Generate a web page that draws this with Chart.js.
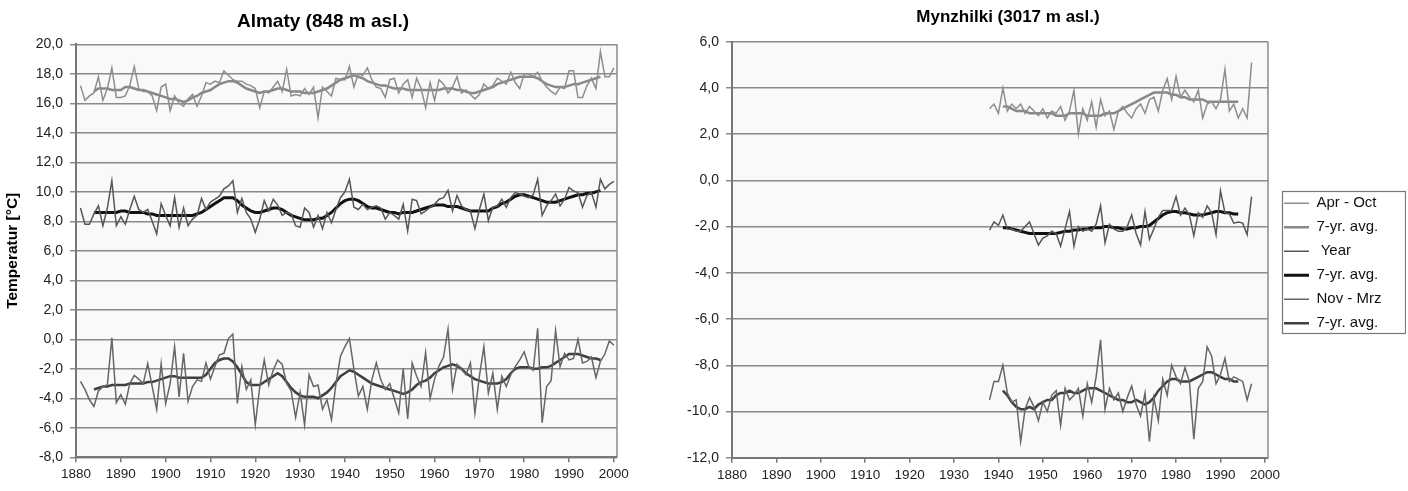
<!DOCTYPE html>
<html>
<head>
<meta charset="utf-8">
<title>Temperatur Almaty / Mynzhilki</title>
<script src="https://cdn.jsdelivr.net/npm/chart.js@4"></script>
<style>
  body { margin: 0; background: #fff; width: 1408px; height: 491px; overflow: hidden; position: relative; }
  #almaty-box { position: absolute; left: 0; top: 0; }
  #mynzhilki-box { position: absolute; left: 610px; top: 0; }
</style>
</head>
<body>
<div id="almaty-box"><canvas id="almatyChart" width="646" height="491"></canvas></div>
<div id="mynzhilki-box"><canvas id="mynzhilkiChart" width="796" height="491"></canvas></div>

<script>
// ---- Almaty (848 m asl.), yearly values from 1881, 7-yr. avg. from 1884
const almatyFirstYear = 1881;
const almatyAvgFirstYear = 1884;

const almatyAprOct = [
  17.2, 16.2, 16.5, 16.7, 17.8, 16.2, 17.0, 18.4, 16.4, 16.4,
  16.5, 17.2, 18.5, 17.0, 16.8, 16.8, 16.5, 15.5, 17.1, 17.3,
  15.5, 16.5, 16.0, 15.8, 16.3, 16.6, 15.8, 16.5, 17.4, 17.3,
  17.5, 17.4, 18.2, 17.9, 17.6, 17.5, 17.5, 17.3, 17.2, 17.0,
  15.7, 16.8, 16.7, 17.1, 17.5, 16.8, 18.3, 16.5, 16.6, 16.5,
  17.0, 16.6, 17.1, 15.0, 17.1, 16.8, 16.5, 17.7, 17.6, 17.6,
  18.5, 17.1, 18.0, 17.9, 18.4, 17.6, 17.1, 17.0, 16.4, 17.6,
  17.7, 16.7, 17.3, 17.6, 16.4, 17.7, 17.0, 15.7, 17.4, 16.2,
  17.6, 17.3, 16.7, 17.1, 17.8, 16.7, 16.9, 16.6, 16.3, 16.6,
  17.3, 17.0, 17.2, 17.7, 17.5, 17.3, 18.1, 17.4, 17.0, 18.0,
  18.0, 17.8, 18.1, 17.5, 17.1, 16.8, 16.6, 17.1, 17.0, 18.2,
  18.2, 16.4, 16.4, 17.2, 17.7, 17.0, 19.5, 17.8, 17.8, 18.4
];
const almatyAprOctAvg = [
  16.8, 17.0, 17.0, 17.0, 16.9, 16.9, 16.9,
  17.1, 17.1, 17.0, 16.9, 16.9, 16.8, 16.7, 16.6, 16.5, 16.4,
  16.3, 16.3, 16.2, 16.1, 16.2, 16.4, 16.5, 16.7, 16.8, 16.9,
  17.1, 17.3, 17.4, 17.5, 17.5, 17.4, 17.2, 17.0, 16.9, 16.8,
  16.7, 16.8, 16.8, 16.9, 17.0, 17.0, 16.9, 16.8, 16.8, 16.8,
  16.7, 16.7, 16.7, 16.8, 16.9, 17.0, 17.2, 17.4, 17.6, 17.7,
  17.8, 17.9, 17.8, 17.7, 17.5, 17.4, 17.3, 17.2, 17.2, 17.1,
  17.0, 17.0, 17.0, 16.9, 16.9, 16.9, 16.9, 16.9, 16.9, 16.9,
  16.9, 17.0, 17.0, 17.0, 16.9, 16.9, 16.8, 16.7, 16.7, 16.8,
  16.9, 17.0, 17.1, 17.3, 17.4, 17.5, 17.6, 17.7, 17.8, 17.8,
  17.8, 17.8, 17.7, 17.5, 17.3, 17.2, 17.1, 17.1, 17.1, 17.2,
  17.3, 17.3, 17.4, 17.5, 17.6, 17.7, 17.8
];
const almatyYear = [
  8.9, 7.8, 7.8, 8.5, 9.05, 7.7, 8.9, 10.75, 7.7, 8.3,
  7.8, 8.8, 9.7, 8.8, 8.6, 8.8, 8.0, 7.15, 9.2, 8.4,
  7.7, 9.6, 7.6, 8.9, 7.7, 8.15, 8.4, 9.55, 8.8, 9.3,
  9.5, 9.7, 10.2, 10.4, 10.75, 8.6, 9.55, 8.6, 8.15, 7.25,
  8.15, 9.4, 8.7, 9.5, 9.1, 8.4, 8.6, 8.5, 7.7, 7.6,
  8.9, 8.6, 7.6, 8.4, 7.5, 8.6, 7.9, 8.8, 9.6, 10.0,
  10.85, 8.95, 8.8, 9.15, 8.8, 8.95, 9.05, 8.9, 8.15, 8.6,
  8.4, 8.15, 9.15, 7.35, 9.5, 9.4, 8.5, 8.7, 8.95, 9.15,
  9.5, 9.6, 10.1, 8.7, 9.75, 9.05, 8.8, 8.7, 7.5, 8.8,
  9.85, 8.05, 8.95, 9.05, 9.5, 8.95, 9.6, 9.95, 9.85, 9.7,
  9.6, 9.8, 10.85, 8.4, 9.05, 9.4, 9.85, 9.05, 9.5, 10.3,
  10.05, 9.95, 8.95, 9.75, 9.95, 8.95, 10.85, 10.2, 10.5, 10.7
];
const almatyYearAvg = [
  8.6, 8.6, 8.6, 8.6, 8.6, 8.6, 8.7,
  8.7, 8.6, 8.6, 8.6, 8.6, 8.5, 8.5, 8.4, 8.4, 8.4,
  8.4, 8.4, 8.4, 8.4, 8.4, 8.4, 8.5, 8.6, 8.8, 9.0,
  9.2, 9.4, 9.6, 9.6, 9.6, 9.4, 9.1, 8.9, 8.7, 8.6,
  8.6, 8.7, 8.8, 8.9, 8.9, 8.8, 8.6, 8.4, 8.3, 8.2,
  8.1, 8.1, 8.1, 8.2, 8.2, 8.4, 8.6, 8.9, 9.2, 9.4,
  9.5, 9.5, 9.4, 9.2, 9.0, 8.9, 8.9, 8.8, 8.7, 8.6,
  8.6, 8.5, 8.6, 8.6, 8.6, 8.7, 8.8, 8.9, 9.0, 9.1,
  9.1, 9.1, 9.0, 9.0, 9.0, 8.9, 8.8, 8.7, 8.7, 8.7,
  8.7, 8.7, 8.9, 9.0, 9.2, 9.3, 9.5, 9.7, 9.8, 9.8,
  9.7, 9.6, 9.5, 9.4, 9.3, 9.3, 9.3, 9.4, 9.5, 9.6,
  9.7, 9.8, 9.8, 9.9, 9.9, 10.0, 10.1
];
const almatyNovMrz = [
  -2.85, -3.4, -4.1, -4.55, -3.5, -3.2, -3.1, 0.1, -4.3, -3.75,
  -4.4, -3.0, -2.45, -2.7, -3.0, -1.65, -3.2, -4.75, -1.65, -4.35,
  -3.0, -0.5, -3.9, -0.95, -4.2, -3.2, -2.75, -2.85, -1.6, -2.7,
  -1.85, -1.05, -0.95, 0.05, 0.35, -4.35, -1.85, -3.4, -2.75, -5.8,
  -3.2, -1.4, -3.1, -2.1, -1.4, -1.7, -3.0, -3.5, -5.3, -3.6,
  -5.8, -2.4, -3.2, -3.1, -4.75, -4.1, -5.45, -3.0, -1.15, -0.5,
  0.05, -2.0, -3.85, -3.2, -4.75, -2.75, -1.6, -2.75, -3.4, -3.0,
  -4.0, -5.0, -2.0, -5.4, -1.6, -2.5, -3.2, -0.9, -4.0, -2.7,
  -1.8, -1.2, 0.7, -3.4, -1.7, -2.0, -2.4, -1.6, -5.0, -2.5,
  -0.5, -3.65, -2.3, -4.75, -2.5, -3.2, -2.4, -1.85, -1.4, -0.85,
  -1.85, -2.1, 0.75, -5.65, -3.2, -2.8, 0.6, -1.85, -0.95, -1.4,
  -1.3, 0.0, -1.6, -1.5, -1.2, -2.6, -1.5, -1.0, -0.1, -0.4
];
const almatyNovMrzAvg = [
  -3.4, -3.3, -3.2, -3.2, -3.1, -3.1, -3.1,
  -3.1, -3.0, -3.0, -3.0, -3.0, -2.9, -2.9, -2.8, -2.7, -2.6,
  -2.5, -2.5, -2.6, -2.6, -2.6, -2.6, -2.6, -2.6, -2.4, -2.0,
  -1.6, -1.4, -1.3, -1.3, -1.5, -1.9, -2.4, -2.9, -3.1, -3.1,
  -3.1, -2.9, -2.7, -2.5, -2.3, -2.5, -2.9, -3.3, -3.6, -3.8,
  -3.9, -3.9, -3.9, -4.0, -3.8, -3.6, -3.3, -2.9, -2.5, -2.3,
  -2.1, -2.2, -2.4, -2.6, -2.8, -3.0, -3.1, -3.2, -3.3, -3.4,
  -3.5, -3.6, -3.7, -3.6, -3.4, -3.1, -2.9, -2.8, -2.6, -2.3,
  -2.1, -1.9, -1.8, -1.7, -1.8, -2.0, -2.3, -2.5, -2.7, -2.8,
  -2.9, -3.0, -3.0, -3.0, -2.9, -2.7, -2.3, -2.0, -1.9, -1.9,
  -1.9, -2.0, -2.0, -1.9, -1.9, -1.8, -1.6, -1.4, -1.2, -1.0,
  -1.0, -1.0, -1.1, -1.2, -1.3, -1.3, -1.4
];

// ---- Mynzhilki (3017 m asl.), yearly values from 1938, 7-yr. avg. from 1941
const mynFirstYear = 1938;
const mynAvgFirstYear = 1941;

const mynAprOct = [
  3.1, 3.3, 2.9, 4.0, 3.0, 3.3, 3.1, 3.3, 2.9, 3.2,
  3.0, 2.8, 3.1, 2.7, 3.0, 2.9, 3.2, 2.6, 3.0, 3.9,
  2.0, 3.1, 2.6, 3.4, 2.3, 3.5, 2.8, 3.0, 2.2, 3.0,
  3.2, 2.9, 2.7, 3.1, 3.3, 2.9, 3.5, 3.6, 3.0, 3.9,
  4.4, 3.5, 4.5, 3.6, 3.9, 3.6, 3.4, 3.9, 2.7, 3.3,
  3.4, 3.1, 3.5, 4.8, 3.0, 3.3, 2.7, 3.1, 2.7, 5.1
];
const mynAprOctAvg = [
  3.2, 3.2, 3.1, 3.0, 3.0, 3.0, 2.9, 2.9, 2.9, 2.9,
  2.9, 2.9, 2.8, 2.8, 2.8, 2.9, 2.9, 2.9, 2.9, 2.8,
  2.8, 2.8, 2.8, 2.9, 2.9, 2.9, 3.0, 3.1, 3.2, 3.3,
  3.4, 3.5, 3.6, 3.7, 3.8, 3.8, 3.8, 3.8, 3.7, 3.7,
  3.6, 3.6, 3.5, 3.5, 3.5, 3.5, 3.4, 3.4, 3.4, 3.4,
  3.4, 3.4, 3.4, 3.4
];
const mynYear = [
  -2.15, -1.8, -1.95, -1.5, -2.1, -2.1, -2.2, -2.2, -2.0, -1.8,
  -2.3, -2.8, -2.5, -2.4, -2.2, -2.3, -2.85, -2.1, -1.35, -2.85,
  -2.0, -2.2, -2.1, -2.2, -1.9, -1.1, -2.7, -1.9, -2.1, -2.2,
  -2.2, -2.0, -1.5, -2.3, -2.8, -1.35, -2.55, -2.1, -1.6, -1.3,
  -1.3, -1.3, -0.7, -1.5, -1.2, -1.5, -2.4, -1.4, -1.6, -1.1,
  -1.4, -2.35, -0.45, -1.4, -1.45, -1.85, -1.8, -1.85, -2.35, -0.7
];
const mynYearAvg = [
  -2.05, -2.05, -2.1, -2.15, -2.2, -2.25, -2.3, -2.3, -2.3, -2.3,
  -2.3, -2.3, -2.3, -2.25, -2.2, -2.2, -2.15, -2.15, -2.1, -2.1,
  -2.05, -2.05, -2.05, -2.0, -2.0, -2.05, -2.05, -2.1, -2.1, -2.05,
  -2.05, -2.0, -2.0, -1.95, -1.8, -1.65, -1.5, -1.4, -1.35, -1.35,
  -1.4, -1.4, -1.45, -1.5, -1.5, -1.5, -1.45, -1.4, -1.35, -1.35,
  -1.4, -1.4, -1.45, -1.45
];
const mynNovMrz = [
  -9.5, -8.7, -8.7, -8.0, -9.2, -9.6, -9.5, -11.3, -9.9, -9.4,
  -9.8, -10.4, -9.6, -10.0, -9.3, -9.1, -10.6, -9.0, -9.5, -9.3,
  -9.0, -10.2, -8.8, -9.6, -8.5, -6.9, -9.9, -9.0, -9.5, -9.2,
  -10.0, -9.4, -8.9, -9.7, -10.2, -9.2, -11.3, -9.4, -10.4, -8.6,
  -9.3, -8.0, -8.5, -8.8, -8.1, -8.7, -11.2, -9.0, -8.7, -7.2,
  -7.6, -8.8, -8.4, -7.7, -8.7, -8.5, -8.6, -8.7, -9.5, -8.8
];
const mynNovMrzAvg = [
  -9.1, -9.3, -9.6, -9.8, -9.9, -9.9, -9.8, -9.9, -9.7, -9.6,
  -9.5, -9.5, -9.3, -9.2, -9.2, -9.1, -9.2, -9.2, -9.1, -9.0,
  -9.0, -9.0, -9.1, -9.2, -9.3, -9.4, -9.5, -9.5, -9.6, -9.6,
  -9.5, -9.6, -9.7, -9.6, -9.4, -9.1, -8.9, -8.7, -8.6, -8.6,
  -8.7, -8.7, -8.7, -8.6, -8.5, -8.4, -8.3, -8.3, -8.4, -8.5,
  -8.6, -8.6, -8.7, -8.7
];

const legendLabels = ['Apr - Oct', '7-yr. avg.', ' Year', '7-yr. avg.', 'Nov - Mrz', '7-yr. avg.'];
const decadeTicks = [1880, 1890, 1900, 1910, 1920, 1930, 1940, 1950, 1960, 1970, 1980, 1990, 2000];

// line styles, same order as legendLabels
const lineStyles = [
  { color: '#8e8e8e', width: 1.5 },
  { color: '#888888', width: 2.5 },
  { color: '#575757', width: 1.5 },
  { color: '#111111', width: 3 },
  { color: '#666666', width: 1.5 },
  { color: '#3f3f3f', width: 2.5 }
];

function toPoints(firstYear, values) {
  return values.map((v, i) => ({ x: firstYear + i, y: v }));
}

function makeDatasets(series) {
  return series.map((s, i) => ({
    label: legendLabels[i],
    data: toPoints(s[0], s[1]),
    borderColor: lineStyles[i].color,
    backgroundColor: lineStyles[i].color,
    borderWidth: lineStyles[i].width,
    pointRadius: 0,
    pointHoverRadius: 0,
    tension: 0,
    fill: false
  }));
}

const FONT = "'Liberation Sans', Arial, sans-serif";

// light plot background and right-hand frame line
const plotFrame = {
  id: 'plotFrame',
  beforeDraw(chart) {
    const { ctx, chartArea: a } = chart;
    ctx.save();
    ctx.fillStyle = '#f9f9f9';
    ctx.fillRect(a.left, a.top, a.right - a.left, a.bottom - a.top);
    ctx.restore();
  },
  beforeDatasetsDraw(chart) {
    const { ctx, chartArea: a } = chart;
    ctx.save();
    ctx.strokeStyle = '#8a8a8a';
    ctx.lineWidth = 1.5;
    ctx.beginPath();
    ctx.moveTo(a.right, a.top);
    ctx.lineTo(a.right, a.bottom);
    ctx.stroke();
    ctx.restore();
  }
};

// put the legend right of the Mynzhilki plot and frame it
const legendFrame = { x: 672, y: 191, w: 124, h: 142 };
const legendBox = {
  id: 'legendBox',
  afterLayout(chart) {
    const lg = chart.legend;
    if (!lg) return;
    lg.left = 665;
    lg.top = 186.8;
    lg.right = lg.left + 131;
    lg.bottom = lg.top + 280;
  },
  afterDraw(chart) {
    const { ctx } = chart;
    ctx.save();
    ctx.strokeStyle = '#777';
    ctx.lineWidth = 1.2;
    ctx.strokeRect(legendFrame.x + 0.5, legendFrame.y + 0.5, legendFrame.w - 1, legendFrame.h);
    ctx.restore();
  }
};

function baseOptions(cfg) {
  return {
    responsive: false,
    animation: false,
    events: [],
    plugins: {
      title: {
        display: true,
        text: cfg.title,
        color: '#000',
        font: { family: FONT, size: cfg.titleSize, weight: 'bold' },
        padding: { top: cfg.titleTop, bottom: cfg.titleBottom }
      },
      legend: cfg.legend,
      tooltip: { enabled: false }
    },
    scales: {
      x: {
        type: 'linear',
        min: 1880,
        max: 2000.7,
        afterFit: s => { s.height = cfg.xHeight; },
        afterBuildTicks: s => { s.ticks = decadeTicks.map(v => ({ value: v })); },
        ticks: {
          includeBounds: false,
          color: '#222',
          font: { family: FONT, size: 13.5 },
          padding: 4,
          maxRotation: 0,
          callback: v => String(v)
        },
        grid: { drawOnChartArea: false, drawTicks: true, tickLength: 5, color: '#777', lineWidth: 1.5 },
        border: { display: true, color: '#777', width: 2 }
      },
      y: {
        min: cfg.yMin,
        max: cfg.yMax,
        afterFit: s => { s.width = cfg.yWidth; },
        ticks: {
          stepSize: 2,
          color: '#222',
          font: { family: FONT, size: 14 },
          padding: 7,
          callback: v => v.toFixed(1).replace('.', ',')
        },
        title: cfg.yTitle,
        grid: { color: '#8a8a8a', lineWidth: 1.5, tickLength: 6 },
        border: { display: true, color: '#777', width: 2 }
      },
      // empty right-hand strip, keeps the title centred on the whole canvas
      spacer: {
        position: 'right',
        afterFit: s => { s.width = cfg.rightSpace; },
        ticks: { display: false },
        grid: { display: false },
        border: { display: false }
      }
    }
  };
}

new Chart(document.getElementById('almatyChart'), {
  type: 'line',
  data: {
    datasets: makeDatasets([
      [almatyFirstYear, almatyAprOct],
      [almatyAvgFirstYear, almatyAprOctAvg],
      [almatyFirstYear, almatyYear],
      [almatyAvgFirstYear, almatyYearAvg],
      [almatyFirstYear, almatyNovMrz],
      [almatyAvgFirstYear, almatyNovMrzAvg]
    ])
  },
  options: baseOptions({
    title: 'Almaty (848 m asl.)',
    titleSize: 19,
    titleTop: 10, titleBottom: 11.5,
    rightSpace: 29,
    xHeight: 33.7,
    yWidth: 76,
    yMin: -8, yMax: 20,
    legend: { display: false },
    yTitle: {
      display: true,
      text: 'Temperatur [°C]',
      color: '#000',
      font: { family: FONT, size: 15.5, weight: 'bold' },
      padding: { top: 3, bottom: 0 }
    }
  }),
  plugins: [plotFrame]
});

new Chart(document.getElementById('mynzhilkiChart'), {
  type: 'line',
  data: {
    datasets: makeDatasets([
      [mynFirstYear, mynAprOct],
      [mynAvgFirstYear, mynAprOctAvg],
      [mynFirstYear, mynYear],
      [mynAvgFirstYear, mynYearAvg],
      [mynFirstYear, mynNovMrz],
      [mynAvgFirstYear, mynNovMrzAvg]
    ])
  },
  options: baseOptions({
    title: 'Mynzhilki (3017 m asl.)',
    titleSize: 17,
    titleTop: 7, titleBottom: 14.3,
    rightSpace: 138,
    xHeight: 33.3,
    yWidth: 122,
    yMin: -12, yMax: 6,
    legend: {
      display: true,
      position: 'chartArea',
      align: 'start',
      labels: {
        boxWidth: 25,
        boxHeight: 0,
        padding: 9,
        color: '#111',
        font: { family: FONT, size: 15 }
      }
    },
    yTitle: { display: false }
  }),
  plugins: [plotFrame, legendBox]
});
</script>
</body>
</html>
